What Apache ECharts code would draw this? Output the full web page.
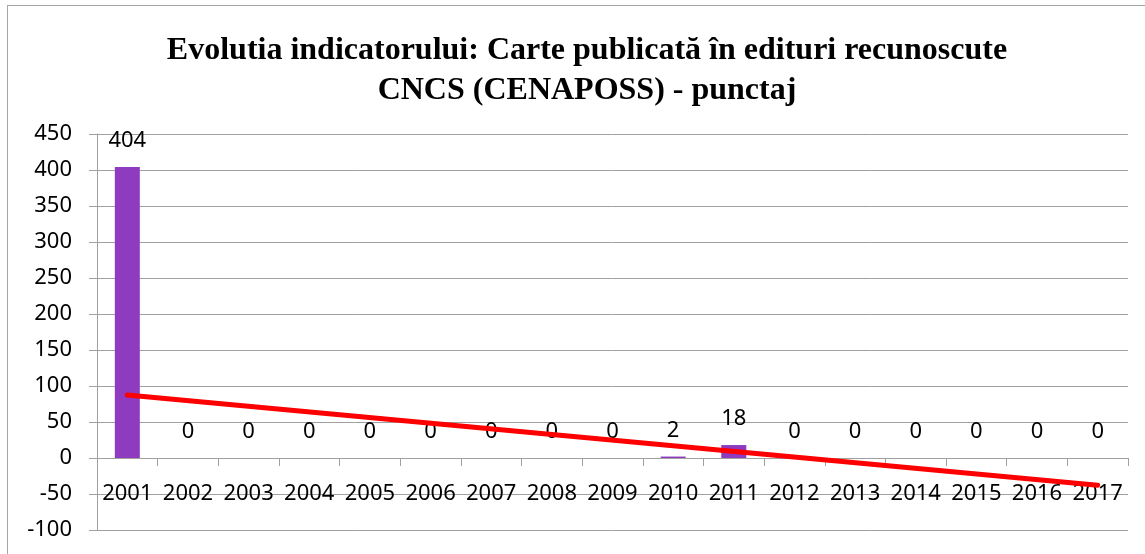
<!DOCTYPE html>
<html>
<head>
<meta charset="utf-8">
<script src="https://cdn.jsdelivr.net/npm/echarts@6/dist/echarts.min.js"></script>
<style>
  html, body { margin: 0; padding: 0; background: #fff; }
  #wrap { position: relative; width: 1145px; height: 554px; overflow: hidden; }
  #frame { position: absolute; left: 7px; top: 5px; width: 1160px; height: 580px; border: 1px solid #a6a6a6; box-sizing: border-box; }
  #echart { position: absolute; left: 0; top: 0; width: 1145px; height: 554px; }
</style>
</head>
<body>
<div id="wrap">
  <div id="frame"></div>
  <div id="echart"></div>
</div>
<script>
// ani
var years = ["2001", "2002", "2003", "2004", "2005", "2006", "2007", "2008", "2009",
  "2010", "2011", "2012", "2013", "2014", "2015", "2016", "2017"];
var punctaj = [404, 0, 0, 0, 0, 0, 0, 0, 0, 2, 18, 0, 0, 0, 0, 0, 0];
// linia de tendinta (capetele)
var trendYears = ["2001", "2017"];
var trendValues = [87.6, -37.7];

var font = "Noto Sans";
var myChart = echarts.init(document.getElementById("echart"));
var option = {
  animation: false,
  title: {
    text: "Evolutia indicatorului: Carte publicată în edituri recunoscute\nCNCS (CENAPOSS) - punctaj",
    left: 582,
    top: 26,
    textAlign: "center",
    textStyle: {
      fontFamily: "Liberation Serif",
      fontWeight: "bold",
      fontSize: 32,
      lineHeight: 40,
      color: "#000",
    },
  },
  grid: {
    left: 97,
    right: 17,
    top: 134,
    bottom: 24,
    outerBoundsMode: "none",
    containLabel: false,
  },
  xAxis: {
    type: "category",
    data: years,
    axisLine: { onZero: true, lineStyle: { color: "#a0a0a0", width: 1 } },
    axisTick: { show: true, interval: 0, length: 8, lineStyle: { color: "#a0a0a0" } },
    // etichetele stau sub linia de zero, ca in original
    axisLabel: { interval: 0, margin: -47, fontFamily: font, fontSize: 22, color: "#000" },
    splitLine: { show: false },
  },
  yAxis: {
    type: "value",
    min: -100,
    max: 450,
    interval: 50,
    axisLine: { show: true, lineStyle: { color: "#a0a0a0", width: 1 } },
    axisTick: { show: true, length: 8, lineStyle: { color: "#a0a0a0" } },
    axisLabel: { margin: 25, fontFamily: font, fontSize: 22, color: "#000" },
    splitLine: { show: true, lineStyle: { color: "#a0a0a0", width: 1 } },
  },
  series: [
    {
      name: "punctaj",
      type: "bar",
      data: punctaj,
      barWidth: 25,
      itemStyle: { color: "#8e3bbf" },
      label: {
        show: true,
        position: "top",
        distance: 15,
        fontFamily: font,
        fontSize: 22,
        color: "#000",
      },
    },
    {
      name: "trend",
      type: "line",
      data: trendYears.map(function (y, i) { return [y, trendValues[i]]; }),
      symbol: "none",
      lineStyle: { color: "#ff0000", width: 5, cap: "round" },
      z: 5,
    },
  ],
};
myChart.setOption(option);
</script>
</body>
</html>
